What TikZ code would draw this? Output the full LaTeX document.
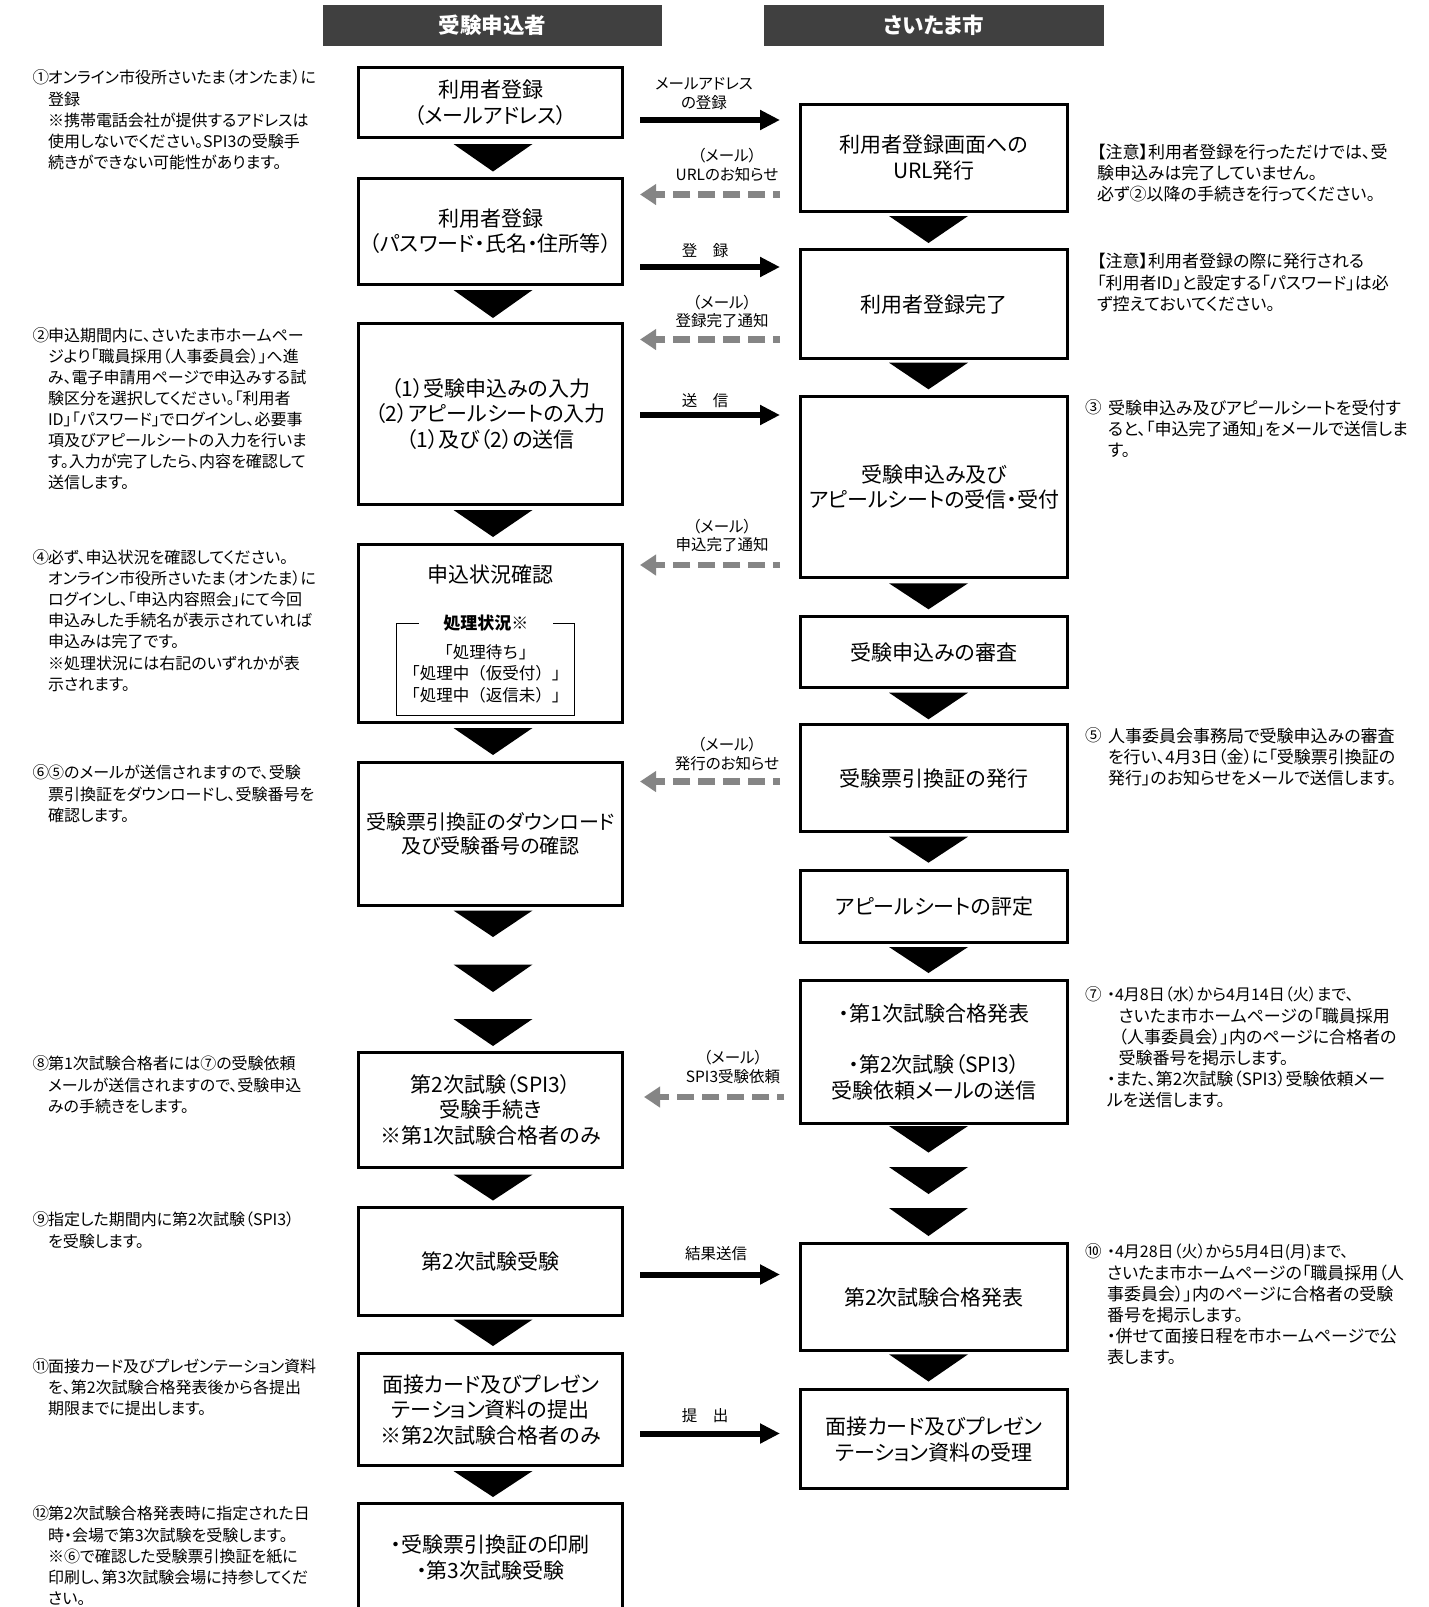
\documentclass[tikz,border=0pt]{standalone}
\usepackage{fontspec}
\setmainfont{Noto Sans CJK JP}[RawFeature={+palt}]
\newfontfamily\jpfull{Noto Sans CJK JP}
\usetikzlibrary{arrows.meta}
\definecolor{hdrgray}{HTML}{404040}
\definecolor{dashgray}{HTML}{858585}
\newcommand\jpBoxFont{\fontsize{21}{25.5}\selectfont}
\newcommand\jpNoteFont{\fontsize{16}{21.1}\selectfont}
\newcommand\jpNoteFontR{\fontsize{17}{21.1}\selectfont}
\newcommand\jpLabFont{\fontsize{15.5}{18.7}\selectfont}
\newcommand\jpInnerFont{\jpfull\fontsize{16.5}{21.4}\selectfont}
\newcommand\nst{\rule{0pt}{15pt}}
\newcommand\dtri[3]{\fill (#1,#2) ++(-39.5,0) -- ++(79,0) -- (#1,#3) -- cycle;}
\begin{document}
\begin{tikzpicture}[x=1pt,y=-1pt,
  every node/.style={inner sep=0pt, outer sep=0pt},
  hdr/.style={fill=hdrgray, text=white, minimum width=339pt, minimum height=41pt, font=\fontsize{21.5}{24}\selectfont\bfseries},
  boxL/.style={draw, line width=3pt, minimum width=264pt, align=center, font=\jpBoxFont},
  boxR/.style={draw, line width=3pt, minimum width=267pt, align=center, font=\jpBoxFont},
  note/.style={anchor=north west, align=left, font=\jpNoteFont},
  noteR/.style={anchor=north west, align=left, font=\jpNoteFontR},
  num/.style={anchor=north west, font=\fontsize{16.5}{21.1}\selectfont},
  lab/.style={align=center, font=\jpLabFont},
  barrow/.style={line width=6pt, -{Triangle[length=20pt,width=19pt]}},
  garrow/.style={draw=dashgray, line width=6.5pt, dash pattern=on 17pt off 8pt, dash phase=10pt, -{Triangle[length=16pt,width=20pt]}}
]
\useasboundingbox (0,0) rectangle (1428,1607);
\clip (0,0) rectangle (1428,1607);
\fill[white] (0,0) rectangle (1428,1607);

% headers
\node[hdr] (hA) at (492.5,25.5) {受験申込者};
\node[hdr, minimum width=340pt] (hB) at (934,25.5) {さいたま市};

% left column boxes
\node[boxL, minimum height=70.8pt] (L1) at (490.5,102.5) {利用者登録\\（メールアドレス）};
\node[boxL, minimum height=106.3pt] (L2) at (490.5,231.3) {利用者登録\\（パスワード・氏名・住所等）};
\node[boxL, minimum height=181pt] (L3) at (490.5,414) {（1）受験申込みの入力\\（2）アピールシートの入力\\（1）及び（2）の送信};
\node[boxL, minimum height=178.5pt] (L4) at (490.5,633.3) {};
\node[font=\jpBoxFont] (L4t) at (490.5,575) {申込状況確認};
\node[draw, line width=1pt, minimum width=178pt, minimum height=92pt] (L4i) at (485.8,669) {};
\node[fill=white, minimum width=134pt, minimum height=18pt, font=\fontsize{17}{20}\selectfont\bfseries] (L4h) at (L4i.north) {処理状況※};
\node[align=center, font=\jpInnerFont] (L4l) at (485.8,673.5) {「処理待ち」\\「処理中（仮受付）」\\「処理中（返信未）」};
\node[boxL, minimum height=143pt, font=\fontsize{20}{24.5}\selectfont] (L5) at (490.5,833.7) {受験票引換証のダウンロード\\及び受験番号の確認};
\node[boxL, minimum height=115.5pt] (L6) at (490.5,1109.8) {第2次試験（SPI3）\\受験手続き\\※第1次試験合格者のみ};
\node[boxL, minimum height=107.2pt] (L7) at (490.5,1261.5) {第2次試験受験};
\node[boxL, minimum height=112.2pt] (L8) at (490.5,1409.8) {面接カード及びプレゼン\\テーション資料の提出\\※第2次試験合格者のみ};
\node[boxL, minimum height=108pt] (L9) at (490.5,1557.5) {・受験票引換証の印刷\\・第3次試験受験};

% right column boxes
\node[boxR, minimum height=107pt] (R1) at (934,157.7) {利用者登録画面への\\URL発行};
\node[boxR, minimum height=108.7pt] (R2) at (934,304.2) {利用者登録完了};
\node[boxR, minimum height=181pt] (R3) at (934,487) {受験申込み及び\\アピールシートの受信・受付};
\node[boxR, minimum height=71pt] (R4) at (934,652) {受験申込みの審査};
\node[boxR, minimum height=107pt] (R5) at (934,778.3) {受験票引換証の発行};
\node[boxR, minimum height=72pt] (R6) at (934,906.8) {アピールシートの評定};
\node[boxR, minimum height=142.7pt] (R7) at (934,1052.2) {・第1次試験合格発表\\[25.5pt]・第2次試験（SPI3）\\受験依頼メールの送信};
\node[boxR, minimum height=107.2pt] (R8) at (934,1297.1) {第2次試験合格発表};
\node[boxR, minimum height=99.2pt] (R9) at (934,1439.3) {面接カード及びプレゼン\\テーション資料の受理};

% down triangles
\dtri{493}{144}{171.5}
\dtri{493}{290}{318}
\dtri{493}{510}{537}
\dtri{493}{728}{755}
\dtri{493}{910.5}{937}
\dtri{493}{964.5}{992}
\dtri{493}{1019}{1046}
\dtri{493}{1174.5}{1200.5}
\dtri{493}{1319.5}{1346}
\dtri{493}{1471}{1497}
\dtri{928.5}{216}{243}
\dtri{928.5}{362.7}{389.3}
\dtri{928.5}{583.3}{609.3}
\dtri{928.5}{692.7}{719.3}
\dtri{928.5}{836.7}{862.7}
\dtri{928.5}{947}{973}
\dtri{928.5}{1126}{1152.5}
\dtri{928.5}{1167}{1194}
\dtri{928.5}{1208}{1236}
\dtri{928.5}{1354.3}{1381.5}

% horizontal connectors
\coordinate (a1s) at (640,120);   \coordinate (a1e) at (780,120);
\coordinate (g1s) at (780,194.5); \coordinate (g1e) at (640,194.5);
\coordinate (a2s) at (640,267);   \coordinate (a2e) at (780,267);
\coordinate (g2s) at (780,339.5); \coordinate (g2e) at (640,339.5);
\coordinate (a3s) at (640,415);   \coordinate (a3e) at (780,415);
\coordinate (g3s) at (780,565);   \coordinate (g3e) at (640,565);
\coordinate (g4s) at (780,781.5); \coordinate (g4e) at (640,781.5);
\coordinate (g5s) at (784,1097);  \coordinate (g5e) at (644,1097);
\coordinate (a4s) at (640,1274.5); \coordinate (a4e) at (780,1274.5);
\coordinate (a5s) at (640,1433.5); \coordinate (a5e) at (780,1433.5);
\draw[barrow] (a1s) -- (a1e);
\draw[barrow] (a2s) -- (a2e);
\draw[barrow] (a3s) -- (a3e);
\draw[barrow] (a4s) -- (a4e);
\draw[barrow] (a5s) -- (a5e);
\draw[garrow] (g1s) -- (g1e);
\draw[garrow] (g2s) -- (g2e);
\draw[garrow] (g3s) -- (g3e);
\draw[garrow] (g4s) -- (g4e);
\draw[garrow] (g5s) -- (g5e);

% connector labels
\node[lab] (ta1) at (704,93.3) {メールアドレス\\の登録};
\node[lab] (tg1) at (727,165.3) {（メール）\\URLのお知らせ};
\node[lab] (ta2) at (705,251) {登　録};
\node[lab] (tg2) at (722,311.5) {（メール）\\登録完了通知};
\node[lab] (ta3) at (705,401) {送　信};
\node[lab] (tg3) at (722,535.5) {（メール）\\申込完了通知};
\node[lab] (tg4) at (727,754) {（メール）\\発行のお知らせ};
\node[lab] (tg5) at (733,1067) {（メール）\\SPI3受験依頼};
\node[lab] (ta4) at (716,1254) {結果送信};
\node[lab] (ta5) at (705,1415.7) {提　出};

% left notes
\node[num] (n1) at (32.5,68.9) {\nst ①};
\node[note] (t1) at (48,68.9) {\nst オンライン市役所さいたま（オンたま）に\\登録\\※携帯電話会社が提供するアドレスは\\使用しないでください。SPI3の受験手\\続きができない可能性があります。};
\node[num] (n2) at (32.5,326.1) {\nst ②};
\node[note] (t2) at (48,326.1) {\nst 申込期間内に、さいたま市ホームペー\\ジより「職員採用（人事委員会）」へ進\\み、電子申請用ページで申込みする試\\験区分を選択してください。「利用者\\ID」「パスワード」でログインし、必要事\\項及びアピールシートの入力を行いま\\す。入力が完了したら、内容を確認して\\送信します。};
\node[num] (n4) at (32.5,548.5) {\nst ④};
\node[note] (t4) at (48,548.5) {\nst 必ず、申込状況を確認してください。\\オンライン市役所さいたま（オンたま）に\\ログインし、「申込内容照会」にて今回\\申込みした手続名が表示されていれば\\申込みは完了です。\\※処理状況には右記のいずれかが表\\示されます。};
\node[num] (n6) at (32.5,763.9) {\nst ⑥};
\node[note] (t6) at (48,763.9) {\nst ⑤のメールが送信されますので、受験\\票引換証をダウンロードし、受験番号を\\確認します。};
\node[num] (n8) at (32.5,1054.9) {\nst ⑧};
\node[note] (t8) at (48,1054.9) {\nst 第1次試験合格者には⑦の受験依頼\\メールが送信されますので、受験申込\\みの手続きをします。};
\node[num] (n9) at (32.5,1210.9) {\nst ⑨};
\node[note] (t9) at (48,1210.9) {\nst 指定した期間内に第2次試験（SPI3）\\を受験します。};
\node[num] (n11) at (32.5,1357.4) {\nst ⑪};
\node[note] (t11) at (48,1357.4) {\nst 面接カード及びプレゼンテーション資料\\を、第2次試験合格発表後から各提出\\期限までに提出します。};
\node[num] (n12) at (32.5,1504.9) {\nst ⑫};
\node[note] (t12) at (48,1504.9) {\nst 第2次試験合格発表時に指定された日\\時・会場で第3次試験を受験します。\\※⑥で確認した受験票引換証を紙に\\印刷し、第3次試験会場に持参してくだ\\さい。};

% right notes
\node[noteR] (c1) at (1097,143.2) {\nst 【注意】利用者登録を行っただけでは、受\\験申込みは完了していません。\\必ず②以降の手続きを行ってください。};
\node[noteR] (c2) at (1097,252.9) {\nst 【注意】利用者登録の際に発行される\\「利用者ID」と設定する「パスワード」は必\\ず控えておいてください。};
\node[num] (n3) at (1085,398.9) {\nst ③};
\node[noteR] (t3) at (1108,399.5) {\nst 受験申込み及びアピールシートを受付す\\ると、「申込完了通知」をメールで送信しま\\す。};
\node[num] (n5) at (1085,726.9) {\nst ⑤};
\node[noteR] (t5) at (1108,727.5) {\nst 人事委員会事務局で受験申込みの審査\\を行い、4月3日（金）に「受験票引換証の\\発行」のお知らせをメールで送信します。};
\node[num] (n7) at (1085,985.3) {\nst ⑦};
\node[note] (t7a) at (1107,985.3) {\nst ・4月8日（水）から4月14日（火）まで、};
\node[noteR] (t7b) at (1118.5,1007) {\nst さいたま市ホームページの「職員採用\\（人事委員会）」内のページに合格者の\\受験番号を掲示します。};
\node[noteR] (t7c) at (1107,1070.3) {\nst ・また、第2次試験（SPI3）受験依頼メー\\ルを送信します。};
\node[num] (n10) at (1085,1242.5) {\nst ⑩};
\node[note] (t10a) at (1107,1242.5) {\nst ・4月28日（火）から5月4日(月)まで、};
\node[noteR] (t10b) at (1107,1264.2) {\nst さいたま市ホームページの「職員採用（人\\事委員会）」内のページに合格者の受験\\番号を掲示します。\\・併せて面接日程を市ホームページで公\\表します。};
\end{tikzpicture}
\end{document}
